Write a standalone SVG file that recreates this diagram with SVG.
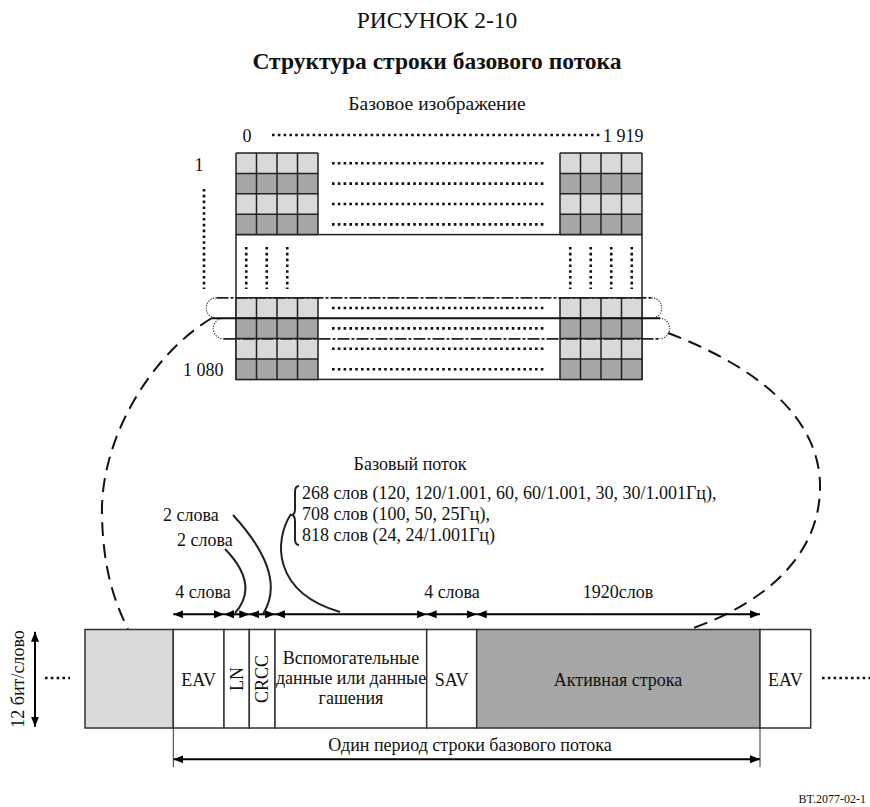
<svg xmlns="http://www.w3.org/2000/svg" xmlns:xlink="http://www.w3.org/1999/xlink" width="870" height="807" viewBox="0 0 870 807">
<style>
  text { font-family: "Liberation Serif", "Times New Roman", serif; fill: #111; font-size: 18px; }
  .t-title { font-size: 23.5px; }
  .t-bold { font-size: 23.5px; font-weight: bold; }
  .t-sub { font-size: 19.5px; }
  .t-small { font-size: 12px; }
  .mid { text-anchor: middle; }
  .lt { fill: #d9d9d9; }
  .dk { fill: #a6a6a6; }
  .grid { fill: none; stroke: #222; stroke-width: 1.5; }
  .box { stroke: #333; stroke-width: 1.5; }
  .dot { fill: none; stroke: #111; stroke-width: 2.6; stroke-dasharray: 2.6 3.2; }
  .loopdash { fill: none; stroke: #222; stroke-width: 1.8; stroke-dasharray: 12 2 3 2; }
  .loopend { fill: none; stroke: #333; stroke-width: 1.2; stroke-dasharray: 1.2 1.4; }
  .solid { fill: none; stroke: #111; stroke-width: 2; }
  .bigdash { fill: none; stroke: #111; stroke-width: 2; stroke-dasharray: 14 8; }
  .curve { fill: none; stroke: #222; stroke-width: 2; }
  .arrow { fill: none; stroke: #000; stroke-width: 2; marker-start: url(#ah); marker-end: url(#ah); }
  .tick { fill: none; stroke: #333; stroke-width: 1; }
</style>
<defs>
  <marker id="ah" viewBox="0 0 10 8" refX="10" refY="4" markerWidth="10" markerHeight="8" markerUnits="userSpaceOnUse" orient="auto-start-reverse">
    <path d="M0,0 L10,4 L0,8 z" fill="#000"/>
  </marker>
  <g id="blk">
    <rect class="lt" x="0" y="0" width="82" height="20.4"/>
    <rect class="dk" x="0" y="20.4" width="82" height="20.4"/>
    <rect class="lt" x="0" y="40.8" width="82" height="20.4"/>
    <rect class="dk" x="0" y="61.2" width="82" height="20.4"/>
    <path class="grid" d="M0,0 V81.6 M20.5,0 V81.6 M41,0 V81.6 M61.5,0 V81.6 M82,0 V81.6 M0,0 H82 M0,20.4 H82 M0,40.8 H82 M0,61.2 H82 M0,81.6 H82"/>
  </g>
</defs>

<g id="titles">
  <text class="t-title mid" x="437" y="28">РИСУНОК 2-10</text>
  <text class="t-bold mid" x="437" y="69">Структура строки базового потока</text>
  <text class="t-sub mid" x="437" y="110">Базовое изображение</text>
</g>

<g id="image">
  <rect x="236" y="234.6" width="406" height="144.8" fill="#fff" class="grid"/>
  <use xlink:href="#blk" x="236" y="153"/>
  <use xlink:href="#blk" x="560" y="153"/>
  <use xlink:href="#blk" x="236" y="297.8"/>
  <use xlink:href="#blk" x="560" y="297.8"/>
  <path class="dot" d="M332,163.2 H545 M332,183.6 H545 M332,204 H545 M332,224.4 H545 M332,308 H545 M332,328.4 H545 M332,348.8 H545 M332,369.2 H545"/>
  <path class="dot" d="M246.25,247 V289 M266.75,247 V289 M287.25,247 V289 M570.25,247 V289 M590.75,247 V289 M611.25,247 V289 M631.75,247 V289"/>
  <path class="dot" d="M272,135 H600"/>
  <path class="dot" d="M204,189 V289"/>
  <text class="mid" x="247" y="141.5">0</text>
  <text x="603" y="141.5">1 919</text>
  <text class="mid" x="199" y="171">1</text>
  <text x="183" y="376">1 080</text>
</g>

<g id="selected-line">
  <path class="loopdash" d="M216.5,297.8 H651.5"/>
  <path class="loopend" d="M216.5,297.8 A10.25,10.25 0 0 0 216.5,318.3 M651.5,297.8 A10.25,10.25 0 0 1 651.5,318.3"/>
  <path class="loopdash" d="M223.5,338.8 H659.5"/>
  <path class="loopend" d="M223.5,318.3 A10.25,10.25 0 0 0 223.5,338.8 M659.5,318.3 A10.25,10.25 0 0 1 659.5,338.8"/>
  <path class="solid" d="M212,318.3 H660"/>
</g>

<g id="connectors">
  <path class="bigdash" d="M212,318 C150,355 100,440 102,515 C103,572 116,605 128,629"/>
  <path class="bigdash" d="M668,333 C760,368 822,420 820,490 C818,560 760,605 688,630"/>
  <path class="curve" d="M233,515 Q288,575 263,614"/>
  <path class="curve" d="M225,549 Q260,585 235,613"/>
  <path class="curve" d="M291,514 C274,540 272,592 340,612"/>
  <path class="curve" d="M299,486 Q295,486 295,492 V509 Q295,514 292,515 Q295,516 295,521 V539 Q295,545 299,545" stroke-width="1.3"/>
  <line class="arrow" x1="173.3" y1="614.3" x2="224" y2="614.3"/>
  <line class="arrow" x1="224" y1="614.3" x2="249.3" y2="614.3"/>
  <line class="arrow" x1="249.3" y1="614.3" x2="275" y2="614.3"/>
  <line class="arrow" x1="275" y1="614.3" x2="426.7" y2="614.3"/>
  <line class="arrow" x1="426.7" y1="614.3" x2="476.7" y2="614.3"/>
  <line class="arrow" x1="476.7" y1="614.3" x2="760" y2="614.3"/>
  <line class="arrow" x1="173.3" y1="759.3" x2="760" y2="759.3"/>
  <line class="tick" x1="173.3" y1="728" x2="173.3" y2="767"/>
  <line class="tick" x1="760" y1="728" x2="760" y2="767"/>
  <line class="arrow" x1="35" y1="631.7" x2="35" y2="726.7"/>
  <path class="dot" d="M45,678 H70"/>
  <path class="dot" d="M822,678 H870"/>
</g>

<g id="stream-labels">
  <text class="mid" x="410" y="470">Базовый поток</text>
  <text x="302" y="499">268 слов (120, 120/1.001, 60, 60/1.001, 30, 30/1.001Гц),</text>
  <text x="302" y="520">708 слов (100, 50, 25Гц),</text>
  <text x="302" y="541">818 слов (24, 24/1.001Гц)</text>
  <text x="163" y="521">2 слова</text>
  <text x="177" y="546">2 слова</text>
  <text class="mid" x="203" y="598">4 слова</text>
  <text class="mid" x="452" y="598">4 слова</text>
  <text class="mid" x="618" y="598">1920слов</text>
  <text transform="translate(24,679) rotate(-90)" class="mid">12 бит/слово</text>
</g>

<g id="box-prev">
  <rect class="box lt" x="85" y="629.5" width="88.3" height="98.5"/>
</g>
<g id="box-eav">
  <rect class="box" fill="#fff" x="173.3" y="629.5" width="50.7" height="98.5"/>
  <text class="mid" x="198.6" y="686" font-size="17">EAV</text>
</g>
<g id="box-ln">
  <rect class="box" fill="#fff" x="224" y="629.5" width="25.3" height="98.5"/>
  <text class="mid" transform="translate(242.5,679) rotate(-90)">LN</text>
</g>
<g id="box-crcc">
  <rect class="box" fill="#fff" x="249.3" y="629.5" width="25.7" height="98.5"/>
  <text class="mid" transform="translate(268,679) rotate(-90)">CRCC</text>
</g>
<g id="box-anc">
  <rect class="box" fill="#fff" x="275" y="629.5" width="151.7" height="98.5"/>
  <text class="mid" x="351" y="664">Вспомогательные</text>
  <text class="mid" x="351" y="684">данные или данные</text>
  <text class="mid" x="351" y="704">гашения</text>
</g>
<g id="box-sav">
  <rect class="box" fill="#fff" x="426.7" y="629.5" width="50" height="98.5"/>
  <text class="mid" x="451.7" y="686" font-size="17">SAV</text>
</g>
<g id="box-active">
  <rect class="box dk" x="476.7" y="629.5" width="283.3" height="98.5"/>
  <text class="mid" x="618" y="686">Активная строка</text>
</g>
<g id="box-eav2">
  <rect class="box" fill="#fff" x="760" y="629.5" width="50.7" height="98.5"/>
  <text class="mid" x="785.3" y="686" font-size="17">EAV</text>
</g>

<g id="period">
  <text class="mid" x="470" y="751">Один период строки базового потока</text>
</g>

<text class="t-small" x="866" y="803" text-anchor="end">BT.2077-02-1</text>
</svg>
